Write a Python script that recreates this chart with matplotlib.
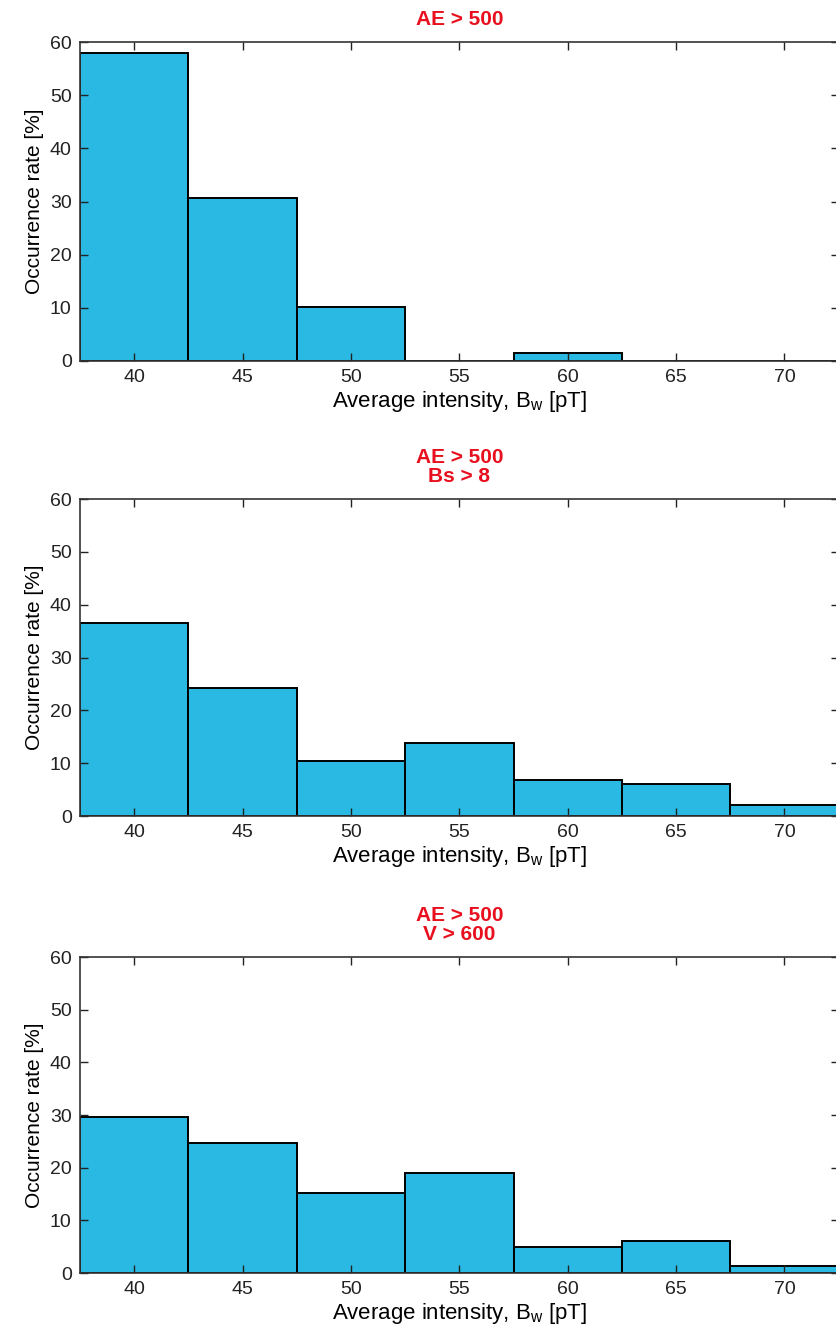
import matplotlib
matplotlib.use('Agg')
import matplotlib.pyplot as plt

plt.rcParams['font.family'] = ['Liberation Sans', 'DejaVu Sans']

# bin centres of average wave intensity [pT]
bins = [40, 45, 50, 55, 60, 65, 70]
bin_width = 5

# occurrence rate [%] per bin
rate_ae = [58, 30.6, 10.1, 0, 1.5, 0, 0]
rate_ae_bs = [36.6, 24.2, 10.5, 13.9, 6.8, 6.1, 2.0]
rate_ae_v = [29.7, 24.6, 15.2, 18.9, 4.9, 6.1, 1.4]

titles = ['AE > 500', 'AE > 500\nBs > 8', 'AE > 500\nV > 600']
series = [rate_ae, rate_ae_bs, rate_ae_v]

bar_color = '#29b9e2'
fig = plt.figure(figsize=(8.36, 13.34), dpi=100)

# axes boxes [left, bottom, width, height] in figure fraction
# (right edge runs just past the image, as in the cropped original)
boxes = [
    [0.0957, 0.7294, 0.9075, 0.2391],
    [0.0957, 0.3883, 0.9075, 0.2376],
    [0.0957, 0.0457, 0.9075, 0.2369],
]

for box, title, vals in zip(boxes, titles, series):
    ax = fig.add_axes(box)
    ax.bar(bins, vals, width=bin_width, color=bar_color,
           edgecolor='black', linewidth=1.4, align='center')
    ax.set_xlim(37.5, 72.5)
    ax.set_ylim(0, 60)
    ax.set_xticks(bins)
    ax.set_yticks(range(0, 61, 10))
    ax.tick_params(direction='in', top=True, right=True, length=6,
                   width=1, labelsize=14, colors='#222222', pad=6)
    for sp in ax.spines.values():
        sp.set_linewidth(1.2)
        sp.set_color('#333333')
    ax.set_xlabel(r'Average intensity, B$\mathregular{_w}$ [pT]',
                  fontsize=16, labelpad=2)
    ax.set_ylabel('Occurrence rate [%]', fontsize=15, labelpad=4)
    ax.set_title(title, color='#e8101e', fontweight='bold', fontsize=15,
                 linespacing=1.05, pad=12)

fig.savefig('out.png', dpi=100)
